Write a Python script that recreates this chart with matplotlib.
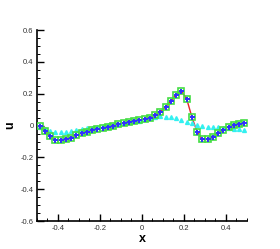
import numpy as np
import matplotlib
matplotlib.use("Agg")
import matplotlib.pyplot as plt
from matplotlib.ticker import MultipleLocator, FuncFormatter

plt.rcParams['font.family'] = ['Liberation Sans', 'DejaVu Sans']

# cell centres
x = np.arange(-0.4875, 0.5, 0.025)

u_scheme = [0.0, -0.033, -0.064, -0.090, -0.091, -0.085, -0.075, -0.062, -0.048, -0.037,
            -0.028, -0.019, -0.012, -0.006, 0.0, 0.008, 0.014, 0.020, 0.027, 0.034,
            0.042, 0.051, 0.066, 0.086, 0.118, 0.154, 0.195, 0.216, 0.170, 0.055,
            -0.039, -0.087, -0.087, -0.074, -0.049, -0.026, -0.007, 0.003, 0.009, 0.014]

u_diffusive = [-0.008, -0.022, -0.035, -0.042, -0.043, -0.040, -0.035, -0.029, -0.023, -0.017,
               -0.012, -0.007, -0.003, 0.001, 0.006, 0.011, 0.016, 0.022, 0.028, 0.032,
               0.042, 0.050, 0.057, 0.060, 0.057, 0.052, 0.045, 0.035, 0.025, 0.015,
               0.005, -0.002, -0.006, -0.008, -0.011, -0.014, -0.017, -0.020, -0.023, -0.026]

fig = plt.figure(figsize=(2.8, 2.49), dpi=100)
ax = fig.add_axes([0.132, 0.112, 0.75, 0.767])

ax.plot(x, u_scheme, '-', color='#e8202a', lw=1.0, zorder=2)
ax.plot(x, u_diffusive, '^', color='#33f0f0', ms=2.8, mec='#33f0f0', ls='none', zorder=3)
ax.plot(x, u_scheme, 's', mfc='none', mec='#44dd44', mew=1.2, ms=4.5, ls='none', zorder=4)
ax.plot(x, u_scheme, '+', color='#3030ff', ms=3.6, mew=1.4, ls='none', zorder=5)

ax.set_xlim(-0.5, 0.5)
ax.set_ylim(-0.6, 0.6)
ax.xaxis.set_major_locator(MultipleLocator(0.2))
ax.xaxis.set_minor_locator(MultipleLocator(0.05))
ax.yaxis.set_major_locator(MultipleLocator(0.2))
ax.yaxis.set_minor_locator(MultipleLocator(0.05))

fmt = FuncFormatter(lambda v, p: '0' if abs(v) < 1e-9 else f'{v:.1f}')
ax.xaxis.set_major_formatter(fmt)
ax.yaxis.set_major_formatter(fmt)

for side in ['top', 'right']:
    ax.spines[side].set_visible(False)
for side in ['left', 'bottom']:
    ax.spines[side].set_linewidth(1.2)

ax.tick_params(which='major', direction='in', length=5, width=1.0,
               labelsize=5.5, labelcolor='#333333', pad=2.5)
ax.tick_params(which='minor', direction='in', length=2.5, width=0.7)

ax.set_xlabel('x', fontsize=9, fontweight='bold', labelpad=1)
ax.set_ylabel('u', fontsize=9, fontweight='bold', labelpad=3)

fig.savefig('out.png', dpi=100)
